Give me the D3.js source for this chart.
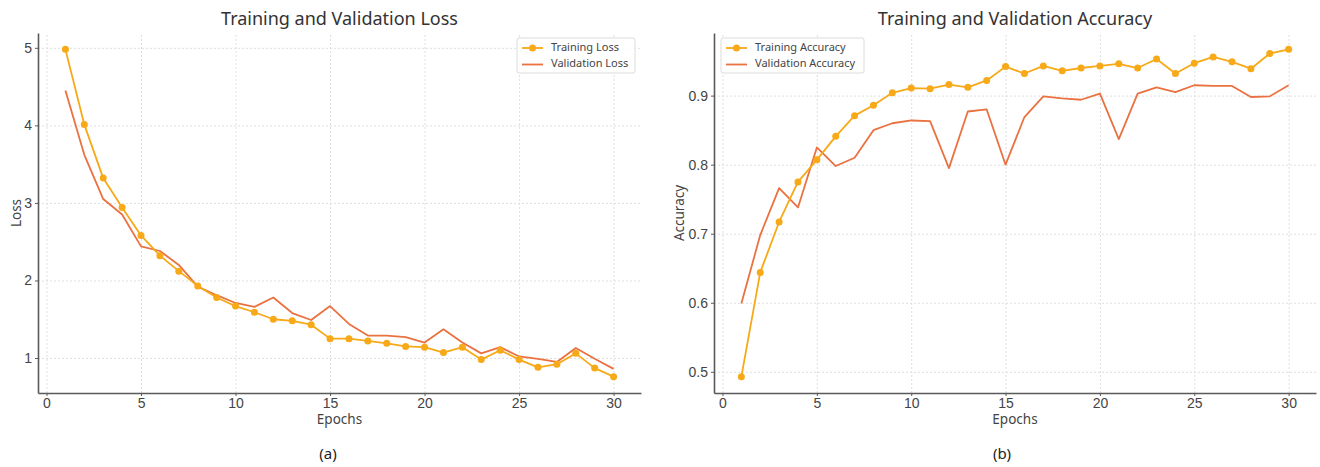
<!DOCTYPE html>
<html>
<head>
<meta charset="utf-8">
<script src="https://cdn.jsdelivr.net/npm/d3@7"></script>
<style>
    body { margin: 0; background: #fff; }
    svg { font-family: "Noto Sans", "Open Sans", sans-serif; }
    .grid line { stroke: #dedede; stroke-dasharray: 2,2; stroke-width: 1; }
    .grid .domain { display: none; }
    .axis .domain { stroke: #5a5a5a; stroke-width: 1.6; }
    .axis .tick line { stroke: #5a5a5a; }
    .axis text { fill: #444; font-size: 14px; }
    .title { fill: #333; font-size: 18px; }
    .axis-label { fill: #444; font-size: 13.5px; }
    .caption { fill: #222; font-size: 15px; }
    .legend text { fill: #444; font-size: 11px; }
</style>
</head>
<body>
<svg id="chart" width="1320" height="467"></svg>
<script>
// epochs shared by both panels
const epochs = [1, 2, 3, 4, 5, 6, 7, 8, 9, 10, 11, 12, 13, 14, 15,
                16, 17, 18, 19, 20, 21, 22, 23, 24, 25, 26, 27, 28, 29, 30];

const trainLoss = [4.98, 4.01, 3.32, 2.94, 2.58, 2.32, 2.12, 1.93, 1.78, 1.67,
                   1.59, 1.50, 1.48, 1.43, 1.25, 1.25, 1.22, 1.19, 1.15, 1.14,
                   1.07, 1.14, 0.98, 1.10, 0.98, 0.88, 0.92, 1.06, 0.87, 0.76];
const valLoss = [4.45, 3.62, 3.05, 2.85, 2.44, 2.38, 2.20, 1.92, 1.81, 1.71,
                 1.66, 1.78, 1.58, 1.49, 1.67, 1.44, 1.29, 1.29, 1.27, 1.20,
                 1.37, 1.20, 1.06, 1.14, 1.02, 0.99, 0.95, 1.13, 0.99, 0.86];

const trainAcc = [0.493, 0.644, 0.717, 0.775, 0.807, 0.841, 0.871, 0.886, 0.904, 0.911,
                  0.910, 0.916, 0.912, 0.922, 0.942, 0.932, 0.943, 0.936, 0.940, 0.943,
                  0.946, 0.940, 0.953, 0.932, 0.947, 0.956, 0.949, 0.939, 0.961, 0.967];
const valAcc = [0.599, 0.698, 0.766, 0.738, 0.825, 0.798, 0.810, 0.850, 0.860, 0.864,
                0.863, 0.795, 0.877, 0.880, 0.800, 0.869, 0.899, 0.896, 0.894, 0.903,
                0.837, 0.903, 0.912, 0.905, 0.915, 0.914, 0.914, 0.898, 0.899, 0.915];

const xTicks = [0, 5, 10, 15, 20, 25, 30];
const lossTicks = [1, 2, 3, 4, 5];
const accTicks = [0.5, 0.6, 0.7, 0.8, 0.9];

const trainColor = "#f7a918";
const valColor = "#ea7140";

class LineChart {
    constructor(_config, _train, _val) {
        this.config = {
            parentElement: _config.parentElement,
            left: _config.left,
            top: 33,
            width: _config.width,
            height: 360,
            title: _config.title,
            yLabel: _config.yLabel,
            caption: _config.caption,
            captionX: _config.captionX,
            names: _config.names,
            yTicks: _config.yTicks,
            yFormat: _config.yFormat,
            legend: _config.legend
        }
        this.train = _train;
        this.val = _val;
        this.initVis();
    }

    initVis() {
        let vis = this;
        let c = vis.config;

        vis.svg = d3.select(c.parentElement);
        vis.chart = vis.svg.append('g')
            .attr('transform', `translate(${c.left}, ${c.top})`);

        // matplotlib style 5% margins on the data range
        let xr = d3.extent(epochs);
        let xPad = (xr[1] - xr[0]) * 0.05;
        vis.xScale = d3.scaleLinear()
            .domain([xr[0] - xPad, xr[1] + xPad])
            .range([0, c.width]);

        let yr = d3.extent(vis.train.concat(vis.val));
        let yPad = (yr[1] - yr[0]) * 0.05;
        vis.yScale = d3.scaleLinear()
            .domain([yr[0] - yPad, yr[1] + yPad])
            .range([c.height, 0]);

        // grid
        vis.chart.append('g')
            .attr('class', 'grid')
            .attr('transform', `translate(0, ${c.height})`)
            .call(d3.axisBottom(vis.xScale).tickValues(xTicks).tickSize(-c.height).tickFormat(''));
        vis.chart.append('g')
            .attr('class', 'grid')
            .call(d3.axisLeft(vis.yScale).tickValues(c.yTicks).tickSize(-c.width).tickFormat(''));

        vis.renderVis();
    }

    renderVis() {
        let vis = this;
        let c = vis.config;

        let line = d3.line()
            .x((d, i) => vis.xScale(epochs[i]))
            .y(d => vis.yScale(d));

        vis.chart.append('path')
            .datum(vis.val)
            .attr('fill', 'none')
            .attr('stroke', valColor)
            .attr('stroke-width', 1.8)
            .attr('stroke-linejoin', 'round')
            .attr('d', line);

        vis.chart.append('path')
            .datum(vis.train)
            .attr('fill', 'none')
            .attr('stroke', trainColor)
            .attr('stroke-width', 1.8)
            .attr('stroke-linejoin', 'round')
            .attr('d', line);

        vis.chart.selectAll('circle.pt')
            .data(vis.train)
            .join('circle')
                .attr('class', 'pt')
                .attr('cx', (d, i) => vis.xScale(epochs[i]))
                .attr('cy', d => vis.yScale(d))
                .attr('r', 3.5)
                .attr('fill', trainColor);

        // axes (left + bottom spines only)
        vis.chart.append('g')
            .attr('class', 'axis x-axis')
            .attr('transform', `translate(0, ${c.height})`)
            .call(d3.axisBottom(vis.xScale).tickValues(xTicks).tickFormat(d3.format('d'))
                .tickSize(3).tickPadding(2).tickSizeOuter(0));
        vis.chart.append('g')
            .attr('class', 'axis y-axis')
            .call(d3.axisLeft(vis.yScale).tickValues(c.yTicks).tickFormat(d3.format(c.yFormat))
                .tickSize(3).tickPadding(3).tickSizeOuter(0));

        // texts
        vis.chart.append('text')
            .attr('class', 'title')
            .attr('x', c.width / 2)
            .attr('y', -13)
            .attr('text-anchor', 'middle')
            .attr('dominant-baseline', 'middle')
            .text(c.title);

        vis.chart.append('text')
            .attr('class', 'axis-label')
            .attr('x', c.width / 2)
            .attr('y', c.height + 27)
            .attr('text-anchor', 'middle')
            .attr('dominant-baseline', 'middle')
            .text('Epochs');

        vis.chart.append('text')
            .attr('class', 'axis-label')
            .attr('transform', `translate(${c.legend.yLabelX}, ${c.height / 2}) rotate(-90)`)
            .attr('text-anchor', 'middle')
            .attr('dominant-baseline', 'middle')
            .text(c.yLabel);

        vis.svg.append('text')
            .attr('class', 'caption')
            .attr('x', c.captionX)
            .attr('y', 455)
            .attr('text-anchor', 'middle')
            .attr('dominant-baseline', 'middle')
            .text(c.caption);

        // legend
        let lg = vis.chart.append('g')
            .attr('class', 'legend')
            .attr('transform', `translate(${c.legend.x}, 5)`);
        lg.append('rect')
            .attr('width', c.legend.w)
            .attr('height', 35)
            .attr('rx', 2)
            .attr('fill', '#fff')
            .attr('fill-opacity', 0.85)
            .attr('stroke', '#dcdcdc');
        let rows = [{name: c.names[0], color: trainColor, marker: true},
                    {name: c.names[1], color: valColor, marker: false}];
        rows.forEach((r, i) => {
            let y = 10 + i * 16.5;
            lg.append('line')
                .attr('x1', 5).attr('x2', 26)
                .attr('y1', y).attr('y2', y)
                .attr('stroke', r.color)
                .attr('stroke-width', 1.8);
            if (r.marker) {
                lg.append('circle')
                    .attr('cx', 15.5).attr('cy', y).attr('r', 3.5)
                    .attr('fill', r.color);
            }
            lg.append('text')
                .attr('x', 34)
                .attr('y', y)
                .attr('dominant-baseline', 'middle')
                .text(r.name);
        });
    }
}

new LineChart({
    parentElement: '#chart',
    left: 38, width: 603,
    title: 'Training and Validation Loss',
    yLabel: 'Loss',
    caption: '(a)', captionX: 328,
    names: ['Training Loss', 'Validation Loss'],
    yTicks: lossTicks, yFormat: 'd',
    legend: {x: 479, w: 118, yLabelX: -21}
}, trainLoss, valLoss);

new LineChart({
    parentElement: '#chart',
    left: 714, width: 602,
    title: 'Training and Validation Accuracy',
    yLabel: 'Accuracy',
    caption: '(b)', captionX: 1002,
    names: ['Training Accuracy', 'Validation Accuracy'],
    yTicks: accTicks, yFormat: '.1f',
    legend: {x: 7, w: 143, yLabelX: -34}
}, trainAcc, valAcc);
</script>
</body>
</html>
